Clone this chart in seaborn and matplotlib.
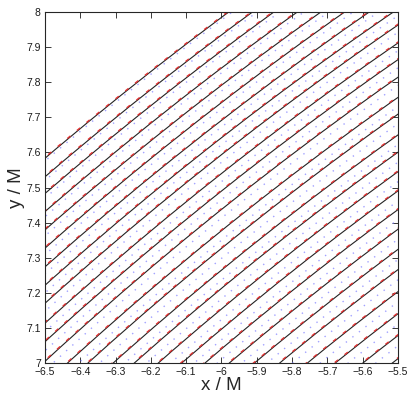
import matplotlib
matplotlib.use("Agg")
import matplotlib.pyplot as plt
from matplotlib.patches import Arc
import seaborn as sns

# orbit centre and the radius of each pass crossing the window
orbit_center = (0.0, 0.0)
black_radii = [9.988, 9.948, 9.912, 9.873, 9.834, 9.795, 9.755, 9.716, 9.678,
               9.636, 9.597, 9.556, 9.509, 9.470, 9.422, 9.382, 9.337, 9.293,
               9.250, 9.205, 9.159, 9.113, 9.063, 9.013, 8.964, 8.912]
red_radii = [9.990, 9.950, 9.914, 9.875, 9.836, 9.797, 9.757, 9.718, 9.680,
             9.638, 9.599, 9.558, 9.511, 9.472, 9.424, 9.384, 9.339, 9.295,
             9.252, 9.207, 9.161, 9.115, 9.065, 9.015, 8.966, 8.914]
blue_radii = [9.982, 9.940, 9.902, 9.862, 9.821, 9.781, 9.740, 9.700, 9.661,
              9.618, 9.578, 9.537, 9.488, 9.448, 9.400, 9.359, 9.314, 9.270,
              9.227, 9.182, 9.136, 9.090, 9.040, 8.990, 8.941, 8.889]

x_ticks = [-6.5, -6.4, -6.3, -6.2, -6.1, -6.0, -5.9, -5.8, -5.7, -5.6, -5.5]
x_tick_labels = ["\u22126.5", "\u22126.4", "\u22126.3", "\u22126.2", "\u22126.1", "\u22126",
                 "\u22125.9", "\u22125.8", "\u22125.7", "\u22125.6", "\u22125.5"]
y_ticks = [7.0, 7.1, 7.2, 7.3, 7.4, 7.5, 7.6, 7.7, 7.8, 7.9, 8.0]
y_tick_labels = ["7", "7.1", "7.2", "7.3", "7.4", "7.5", "7.6", "7.7", "7.8", "7.9", "8"]

sns.set_style("ticks")
plt.rcParams['font.family'] = ['Liberation Sans', 'DejaVu Sans']
plt.rcParams['axes.unicode_minus'] = True

fig = plt.figure(figsize=(4.09, 4.01), dpi=100)
ax = fig.add_axes([0.110, 0.0948, 0.863, 0.875])


def draw_passes(radii, **style):
    for r in radii:
        ax.add_patch(Arc(orbit_center, 2 * r, 2 * r, theta1=90, theta2=180,
                         fill=False, **style))


draw_passes(blue_radii, color="#7a7aff", lw=1.0, alpha=0.7, linestyle=(0, (1, 5)))
draw_passes(black_radii, color="#222222", lw=0.8)
draw_passes(red_radii, color="#e03030", lw=1.0, linestyle=(0, (3, 6)))

ax.set_xlim(-6.5, -5.5)
ax.set_ylim(7, 8)
ax.set_xticks(x_ticks)
ax.set_xticklabels(x_tick_labels)
ax.set_yticks(y_ticks)
ax.set_yticklabels(y_tick_labels)
ax.tick_params(direction="in", top=True, right=True, length=4, width=0.6,
               labelsize=7.5, pad=3, colors="#1a1a1a")
for sp in ax.spines.values():
    sp.set_color("#262626")
    sp.set_linewidth(0.8)

ax.set_xlabel("x / M", fontsize=13.5, labelpad=0)
ax.set_ylabel("y / M", fontsize=13.5, labelpad=1)

fig.savefig("out.png", dpi=100)
